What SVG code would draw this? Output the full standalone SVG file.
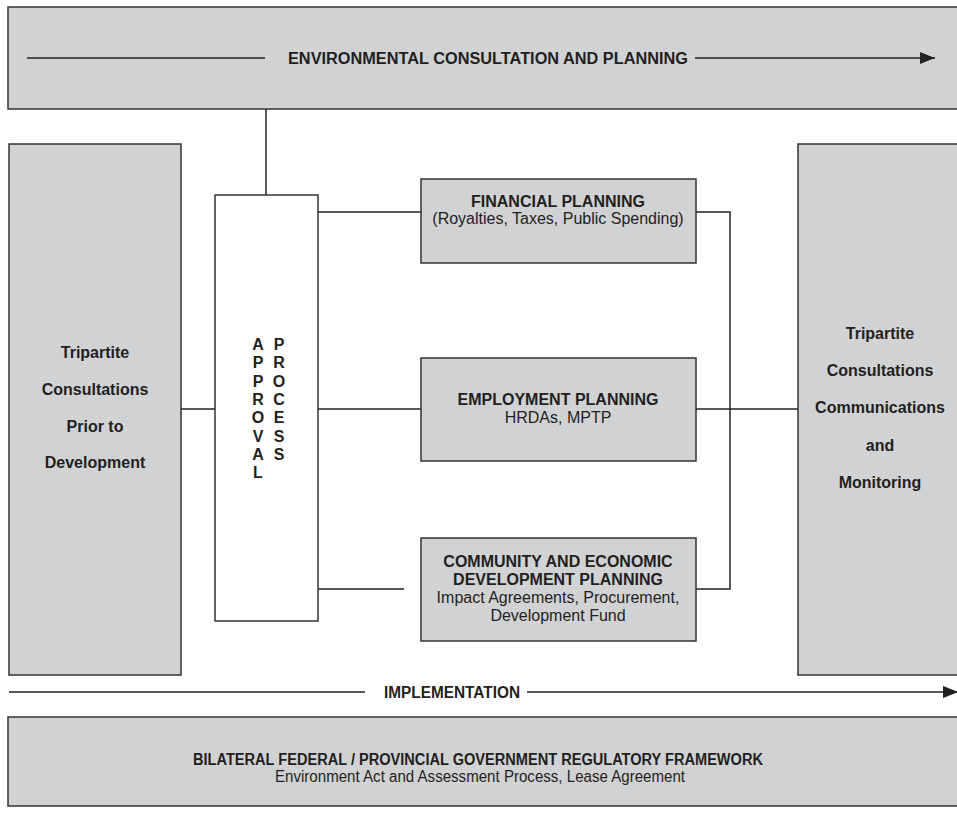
<svg xmlns="http://www.w3.org/2000/svg" width="957" height="816" viewBox="0 0 957 816">
<defs>
<style>
.box{fill:#d1d2d4;stroke:#333;stroke-width:1.5}
.wbox{fill:#fff;stroke:#333;stroke-width:1.5}
.ln{fill:none;stroke:#222;stroke-width:1.5}
text{font-family:"Liberation Sans",Arial,Helvetica,sans-serif;font-size:16px;fill:#231f20;text-anchor:middle}
.b{font-weight:bold}
</style>
<marker id="ah2" viewBox="0 0 10 10" refX="10" refY="5" markerWidth="15" markerHeight="12" markerUnits="userSpaceOnUse" orient="auto" preserveAspectRatio="none">
<path d="M0,0 L10,5 L0,10 Z" fill="#222"/>
</marker>
</defs>
<rect width="957" height="816" fill="#fff"/>

<g id="env">
<rect class="box" x="8" y="7" width="960" height="102"/>
<line class="ln" x1="27" y1="58" x2="265" y2="58"/>
<text class="b" x="488" y="64" textLength="400" lengthAdjust="spacingAndGlyphs">ENVIRONMENTAL CONSULTATION AND PLANNING</text>
<line class="ln" x1="695" y1="58" x2="935" y2="58" marker-end="url(#ah2)"/>
</g>

<g id="connectors">
<line class="ln" x1="266" y1="109" x2="266" y2="195"/>
<line class="ln" x1="181" y1="409" x2="215" y2="409"/>
<line class="ln" x1="318" y1="212" x2="421" y2="212"/>
<line class="ln" x1="318" y1="409" x2="421" y2="409"/>
<line class="ln" x1="318" y1="589" x2="404" y2="589"/>
<polyline class="ln" points="696,212 730,212 730,589 696,589"/>
<line class="ln" x1="696" y1="409" x2="798" y2="409"/>
</g>

<g id="left">
<rect class="box" x="9" y="144" width="172" height="531"/>
<text class="b" x="95" y="358">Tripartite</text>
<text class="b" x="95" y="395">Consultations</text>
<text class="b" x="95" y="432">Prior to</text>
<text class="b" x="95" y="468">Development</text>
</g>

<g id="approval">
<rect class="wbox" x="215" y="195" width="103" height="426"/>
<text class="b" x="258" y="350">A</text>
<text class="b" x="258" y="368">P</text>
<text class="b" x="258" y="387">P</text>
<text class="b" x="258" y="405">R</text>
<text class="b" x="258" y="423">O</text>
<text class="b" x="258" y="442">V</text>
<text class="b" x="258" y="460">A</text>
<text class="b" x="258" y="478">L</text>
<text class="b" x="279" y="350">P</text>
<text class="b" x="279" y="368">R</text>
<text class="b" x="279" y="387">O</text>
<text class="b" x="279" y="405">C</text>
<text class="b" x="279" y="423">E</text>
<text class="b" x="279" y="442">S</text>
<text class="b" x="279" y="460">S</text>
</g>

<g id="financial">
<rect class="box" x="421" y="179" width="275" height="84"/>
<text class="b" x="558" y="207">FINANCIAL PLANNING</text>
<text x="558" y="224">(Royalties, Taxes, Public Spending)</text>
</g>

<g id="employment">
<rect class="box" x="421" y="358" width="275" height="103"/>
<text class="b" x="558" y="405">EMPLOYMENT PLANNING</text>
<text x="558" y="423">HRDAs, MPTP</text>
</g>

<g id="community">
<rect class="box" x="421" y="538" width="275" height="103"/>
<text class="b" x="558" y="567">COMMUNITY AND ECONOMIC</text>
<text class="b" x="558" y="585">DEVELOPMENT PLANNING</text>
<text x="558" y="603">Impact Agreements, Procurement,</text>
<text x="558" y="621">Development Fund</text>
</g>

<g id="right">
<rect class="box" x="798" y="144" width="170" height="531"/>
<text class="b" x="880" y="339">Tripartite</text>
<text class="b" x="880" y="376">Consultations</text>
<text class="b" x="880" y="413">Communications</text>
<text class="b" x="880" y="451">and</text>
<text class="b" x="880" y="488">Monitoring</text>
</g>

<g id="implementation">
<line class="ln" x1="9" y1="692" x2="365" y2="692"/>
<text class="b" x="452" y="698" textLength="136" lengthAdjust="spacingAndGlyphs">IMPLEMENTATION</text>
<line class="ln" x1="527" y1="692" x2="958" y2="692" marker-end="url(#ah2)"/>
</g>

<g id="framework">
<rect class="box" x="8" y="717" width="960" height="89"/>
<text class="b" x="478" y="765" textLength="570" lengthAdjust="spacingAndGlyphs">BILATERAL FEDERAL / PROVINCIAL GOVERNMENT REGULATORY FRAMEWORK</text>
<text x="480" y="782" textLength="410" lengthAdjust="spacingAndGlyphs">Environment Act and Assessment Process, Lease Agreement</text>
</g>
</svg>
